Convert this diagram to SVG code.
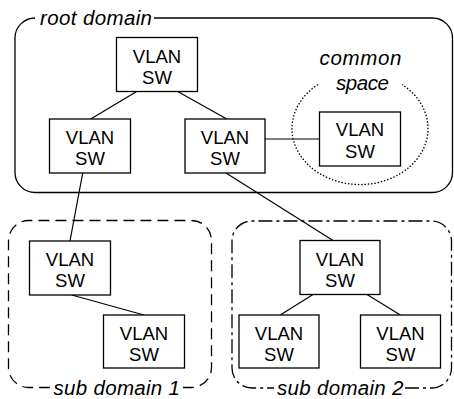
<svg xmlns="http://www.w3.org/2000/svg" width="454" height="399" viewBox="0 0 454 399">
<style>
.bg{fill:#ffffff}
.node rect{fill:#ffffff;stroke:#000;stroke-width:1.3}
.node text{font-family:"Liberation Sans",Arial,sans-serif;font-size:18.5px;text-anchor:middle;fill:#000}
.dom{fill:none;stroke:#000;stroke-width:1.3}
.lbl{font-family:"Liberation Sans",Arial,sans-serif;font-size:20.5px;font-style:italic;fill:#000}
.conn line{stroke:#000;stroke-width:1.2}
</style>
<rect class="bg" x="0" y="0" width="454" height="399"/>
<g id="domains">
<path id="root-domain" class="dom" d="M154 18 H432.5 A20 20 0 0 1 452.5 38 V172.5 A20 20 0 0 1 432.5 192.5 H35 A20 20 0 0 1 15 172.5 V38 A20 20 0 0 1 35 18"/>
<text class="lbl" x="40" y="25" textLength="112">root domain</text>
<path id="common-space" class="dom" stroke-dasharray="1.5 1.8" d="M318 84.5 A68 56 0 1 0 402 84.5"/>
<text class="lbl" x="319.5" y="65" textLength="82">common</text>
<text class="lbl" x="336" y="89.5" textLength="53">space</text>
<path id="sub-domain-1" class="dom" stroke-dasharray="11 6" d="M183 387.5 H191.5 A20 20 0 0 0 211.5 367.5 V240.5 A20 20 0 0 0 191.5 220.5 H28.5 A20 20 0 0 0 8.5 240.5 V367.5 A20 20 0 0 0 28.5 387.5 H50"/>
<text class="lbl" x="53.5" y="395" textLength="126.5">sub domain 1</text>
<path id="sub-domain-2" class="dom" stroke-dasharray="14 4 3 4" d="M405 388 H431.5 A20 20 0 0 0 451.5 368 V241 A20 20 0 0 0 431.5 221 H252 A20 20 0 0 0 232 241 V368 A20 20 0 0 0 252 388 H274"/>
<text class="lbl" x="277" y="395" textLength="126.5">sub domain 2</text>
</g>
<g id="connectors" class="conn">
<line x1="136.7" y1="91.5" x2="90.7" y2="119"/>
<line x1="177.7" y1="91.5" x2="226.7" y2="119"/>
<line x1="82.7" y1="173" x2="70" y2="241"/>
<line x1="265" y1="139" x2="319.5" y2="139"/>
<line x1="226" y1="173" x2="333" y2="240.5"/>
<line x1="71.7" y1="295" x2="144" y2="315"/>
<line x1="313" y1="294.5" x2="280.3" y2="315"/>
<line x1="367" y1="294.5" x2="400.3" y2="315"/>
</g>
<g id="sw-top" class="node"><rect x="116.5" y="37.5" width="81" height="54"/><text x="157" y="62.5">VLAN</text><text x="157" y="83.5">SW</text></g>
<g id="sw-root-left" class="node"><rect x="49.5" y="119" width="81" height="54"/><text x="90" y="144">VLAN</text><text x="90" y="165">SW</text></g>
<g id="sw-root-right" class="node"><rect x="185" y="119" width="80" height="54"/><text x="225" y="144">VLAN</text><text x="225" y="165">SW</text></g>
<g id="sw-common" class="node"><rect x="319.5" y="112" width="81" height="54"/><text x="360" y="136">VLAN</text><text x="360" y="158">SW</text></g>
<g id="sw-sub1-a" class="node"><rect x="29.5" y="241" width="81" height="54"/><text x="70" y="266">VLAN</text><text x="70" y="287">SW</text></g>
<g id="sw-sub1-b" class="node"><rect x="103.5" y="315" width="81" height="53"/><text x="144" y="340">VLAN</text><text x="144" y="361">SW</text></g>
<g id="sw-sub2-a" class="node"><rect x="300" y="240.5" width="80" height="54"/><text x="340" y="265.5">VLAN</text><text x="340" y="286.5">SW</text></g>
<g id="sw-sub2-b" class="node"><rect x="239" y="315" width="80" height="53"/><text x="279" y="340">VLAN</text><text x="279" y="361">SW</text></g>
<g id="sw-sub2-c" class="node"><rect x="360.5" y="315" width="80" height="53"/><text x="400.5" y="340">VLAN</text><text x="400.5" y="361">SW</text></g>
</svg>
